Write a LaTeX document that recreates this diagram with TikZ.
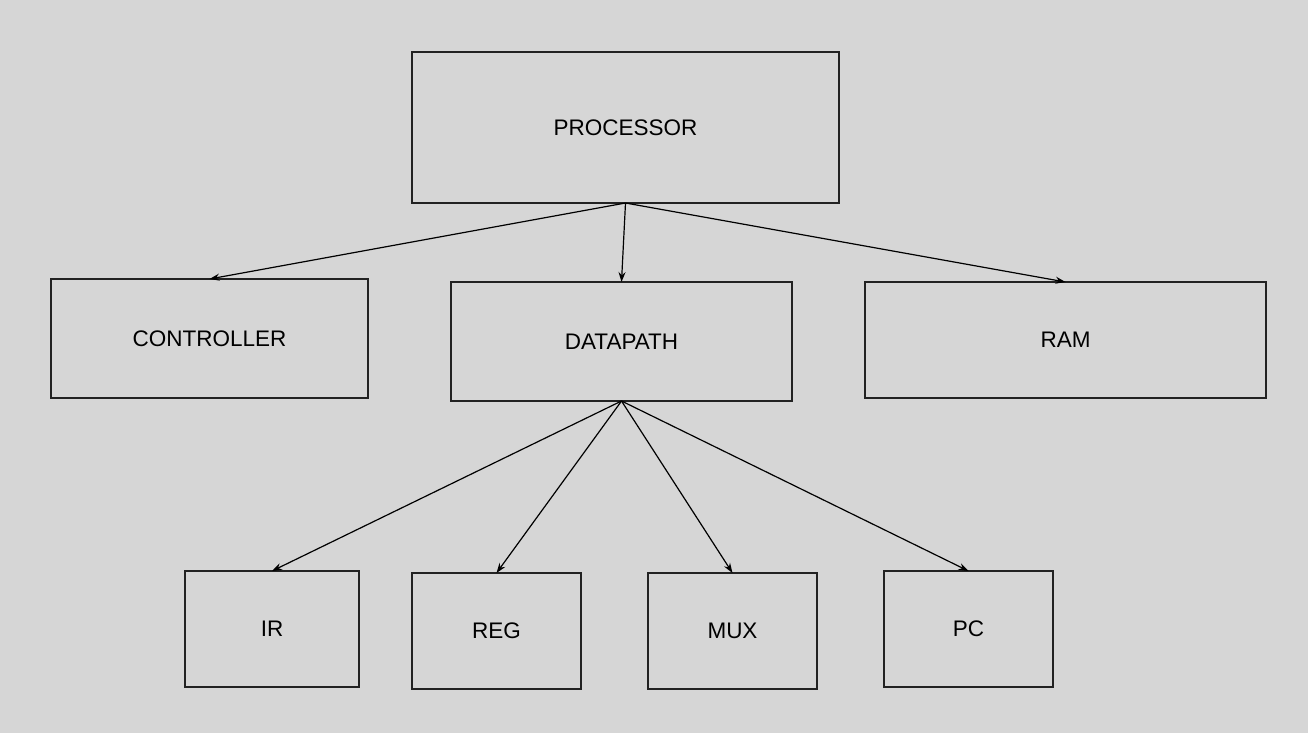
\documentclass[tikz,border=0pt]{standalone}
\usepackage{fontspec}
\setmainfont{Liberation Sans}
\usetikzlibrary{arrows.meta}
\definecolor{bg}{HTML}{D6D6D6}
\definecolor{ln}{HTML}{222222}
\begin{document}
\begin{tikzpicture}[x=1pt,y=-1pt,
  box/.style={draw=ln,line width=1.1pt,fill=bg,inner sep=0pt,outer sep=0pt,
    font=\fontsize{22.5}{26}\selectfont},
  conn/.style={draw=black,line width=1.2pt,-{Stealth[length=10pt,width=7pt]}}]
\fill[bg] (0,0) rectangle (1308,733);
\useasboundingbox (0,0) rectangle (1308,733);
\node[box,minimum width=427pt,minimum height=151pt] (proc) at (625.5,127.5) {PROCESSOR};
\node[box,minimum width=317pt,minimum height=119pt] (ctrl) at (209.5,338.5) {CONTROLLER};
\node[box,minimum width=341pt,minimum height=119pt] (dp) at (621.5,341.5) {DATAPATH};
\node[box,minimum width=401pt,minimum height=116pt] (ram) at (1065.5,340) {RAM};
\node[box,minimum width=174pt,minimum height=116pt] (ir) at (272,629) {IR};
\node[box,minimum width=169pt,minimum height=116pt] (reg) at (496.5,631) {REG};
\node[box,minimum width=169pt,minimum height=116pt] (mux) at (732.5,631) {MUX};
\node[box,minimum width=169pt,minimum height=116pt] (pc) at (968.5,629) {PC};
\draw[conn] (proc.south) -- (ctrl.north);
\draw[conn] (proc.south) -- (dp.north);
\draw[conn] (proc.south) -- (ram.north);
\draw[conn] (dp.south) -- (ir.north);
\draw[conn] (dp.south) -- (reg.north);
\draw[conn] (dp.south) -- (mux.north);
\draw[conn] (dp.south) -- (pc.north);
\end{tikzpicture}
\end{document}
